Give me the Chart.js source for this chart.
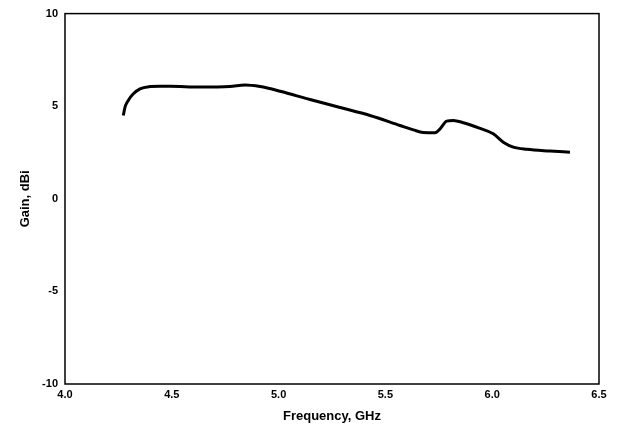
<!DOCTYPE html>
<html>
<head>
<meta charset="utf-8">
<script src="https://cdn.jsdelivr.net/npm/chart.js@4"></script>
<style>
  html, body { margin: 0; padding: 0; background: #fff; }
  #wrap { width: 617px; height: 428px; }
</style>
</head>
<body>
<div id="wrap"><canvas id="chart" width="617" height="428"></canvas></div>
<script>
// 周波数 (GHz) と利得 (dBi)
const freq = [4.273, 4.281, 4.296, 4.320, 4.351, 4.398, 4.445, 4.492, 4.632, 4.772, 4.843, 4.913, 5.007, 5.147, 5.288, 5.428, 5.568, 5.631, 5.677, 5.732, 5.756, 5.787, 5.818, 5.865, 5.94, 6.005, 6.052, 6.099, 6.162, 6.271, 6.364];
const gain = [4.5, 4.95, 5.31, 5.67, 5.94, 6.06, 6.08, 6.08, 6.03, 6.06, 6.14, 6.06, 5.81, 5.36, 4.93, 4.5, 3.96, 3.72, 3.58, 3.57, 3.78, 4.19, 4.23, 4.11, 3.82, 3.51, 3.06, 2.79, 2.67, 2.58, 2.52];
const xTicks = [4.0, 4.5, 5.0, 5.5, 6.0, 6.5];
const yTicks = [-10, -5, 0, 5, 10];

const points = freq.map((f, i) => ({ x: f, y: gain[i] }));

// 枠線を描くプラグイン
const frame = {
    id: 'frame',
    afterDraw(chart) {
        const { ctx, chartArea: a } = chart;
        ctx.save();
        ctx.strokeStyle = '#000';
        ctx.lineWidth = 1.5;
        ctx.strokeRect(a.left, a.top, a.right - a.left, a.bottom - a.top);
        ctx.restore();
    }
};

const tickFont = { family: 'Liberation Sans, Arial, sans-serif', size: 11, weight: 'bold' };
const titleFont = { family: 'Liberation Sans, Arial, sans-serif', size: 13, weight: 'bold' };

new Chart(document.getElementById('chart'), {
    type: 'scatter',
    data: {
        datasets: [{
            data: points,
            showLine: true,
            borderColor: '#000',
            borderWidth: 3,
            pointRadius: 0,
            cubicInterpolationMode: 'monotone'
        }]
    },
    options: {
        responsive: false,
        animation: false,
        layout: { padding: { top: 13, right: 18, left: 14, bottom: 0 } },
        plugins: { legend: { display: false }, tooltip: { enabled: false } },
        scales: {
            x: {
                type: 'linear',
                min: 4.0,
                max: 6.5,
                afterBuildTicks: s => { s.ticks = xTicks.map(v => ({ value: v })); },
                afterFit: s => { s.height = 44; },
                grid: { display: false, drawTicks: false },
                border: { display: false },
                ticks: { color: '#000', font: tickFont, padding: 4, maxRotation: 0, callback: v => v.toFixed(1) },
                title: { display: true, text: 'Frequency, GHz', color: '#000', font: titleFont, padding: { top: 5 } }
            },
            y: {
                type: 'linear',
                min: -10,
                max: 10,
                afterBuildTicks: s => { s.ticks = yTicks.map(v => ({ value: v })); },
                afterFit: s => { s.width = 51; },
                grid: { display: false, drawTicks: false },
                border: { display: false },
                ticks: { color: '#000', font: tickFont, padding: 7 },
                title: { display: true, text: 'Gain, dBi', color: '#000', font: titleFont, padding: { bottom: 8 } }
            }
        }
    },
    plugins: [frame]
});
</script>
</body>
</html>
